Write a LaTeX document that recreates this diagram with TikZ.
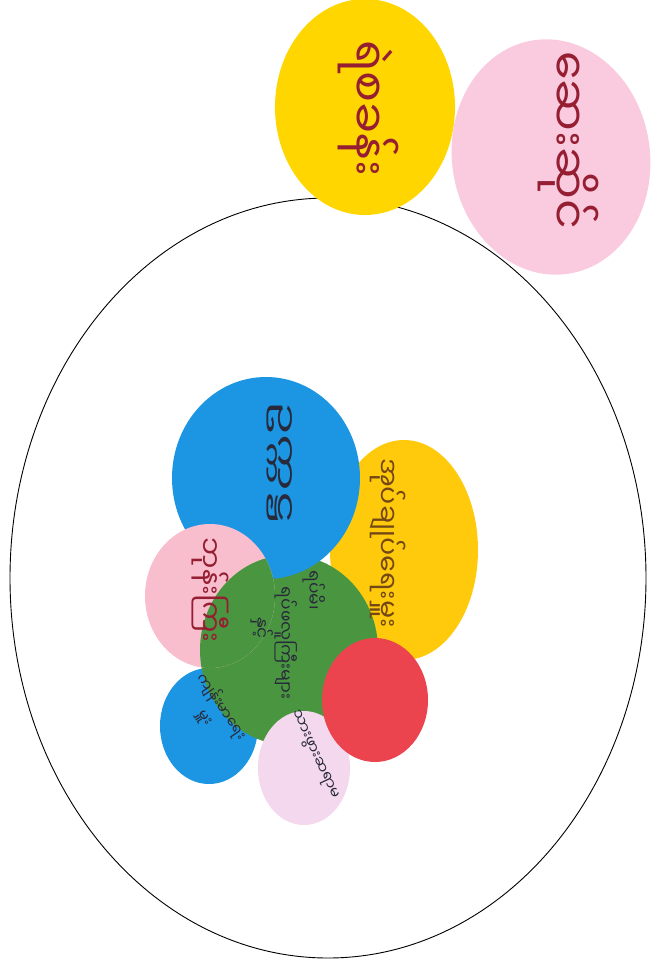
\documentclass[tikz,border=0pt]{standalone}
\usepackage{fontspec}
\newfontfamily\mm[Script=Myanmar]{Noto Sans Myanmar UI}
\definecolor{ylw}{RGB}{255,214,0}
\definecolor{ylwin}{RGB}{255,202,12}
\definecolor{pinkout}{RGB}{250,202,222}
\definecolor{pinkin}{RGB}{248,190,206}
\definecolor{bluec}{RGB}{28,150,226}
\definecolor{greenc}{RGB}{74,150,64}
\definecolor{redc}{RGB}{236,68,78}
\definecolor{lilac}{RGB}{244,216,238}
\definecolor{inkred}{RGB}{150,30,50}
\definecolor{inkdark}{RGB}{40,42,60}
\definecolor{inkbrown}{RGB}{115,72,20}
\begin{document}
\begin{tikzpicture}[x=1pt,y=-1pt,
  lbl/.style={font=\mm, inner sep=0pt, rotate=-90, anchor=center},
  outline/.style={draw=black, line width=0.9pt}]
\useasboundingbox (0,0) rectangle (658,966);
\fill[white] (0,0) rectangle (658,966);
% village boundary
\draw[outline] (328,578) ellipse [x radius=318pt, y radius=380pt];
% outside circles
\fill[ylw] (365,107) ellipse [x radius=90pt, y radius=108pt];
\fill[pinkout, rotate around={8:(551,157)}] (551,157) ellipse [x radius=99pt, y radius=118pt];
% inside circles
\fill[ylwin] (404,550) ellipse [x radius=74pt, y radius=110pt];
\fill[bluec] (209,726) ellipse [x radius=49pt, y radius=58pt];
\fill[greenc] (289,650) ellipse [x radius=89pt, y radius=95pt];
\fill[bluec] (266,478) ellipse [x radius=94pt, y radius=101pt];
\fill[pinkin] (210,596) ellipse [x radius=65pt, y radius=72pt];
\begin{scope}
  \clip (210,596) ellipse [x radius=65pt, y radius=72pt];
  \fill[greenc] (289,650) ellipse [x radius=89pt, y radius=95pt];
\end{scope}
\fill[lilac] (304,768) ellipse [x radius=46pt, y radius=57pt];
\fill[redc] (375,700) ellipse [x radius=53pt, y radius=62pt];
% labels
\node[lbl, text=inkred, font=\mm\fontsize{46}{46}\selectfont] (t1) at (368,108) {ရဲစခန်း};
\node[lbl, text=inkred, font=\mm\fontsize{46}{46}\selectfont] (t2) at (568,140) {ဆေးဆိုင်};
\node[lbl, text=inkdark, font=\mm\fontsize{28}{28}\selectfont] (t3) at (280,463) {\scalebox{1.8}[1]{ဥက္ကဋ္ဌ}};
\node[lbl, text=inkbrown, font=\mm\fontsize{27}{27}\selectfont] (t4) at (388,543) {အုပ်ချုပ်ရေးမှူး};
\node[lbl, text=inkred, font=\mm\fontsize{28}{28}\selectfont] (t5) at (210,590) {ဘုန်းကြီး};
\node[lbl, text=inkdark, font=\mm\fontsize{17}{17}\selectfont] (t6a) at (314,590) {ရပ်မိ၊};
\node[lbl, text=inkdark, font=\mm\fontsize{17}{17}\selectfont] (t6b) at (286,643) {ရပ်ဖလူကြီးများ};
\node[lbl, text=inkdark, font=\mm\fontsize{17}{17}\selectfont] (t6c) at (262,628) {နှင့်};
\node[lbl, rotate=34, text=inkdark, font=\mm\fontsize{15}{19}\selectfont, align=center] (t7) at (214,712) {ကျန်းမာရေး\\မှူး};
\node[lbl, rotate=25, text=inkdark, font=\mm\fontsize{15}{15}\selectfont] (t8) at (314,755) {သားဖွားဆရာမ};
\end{tikzpicture}
\end{document}
